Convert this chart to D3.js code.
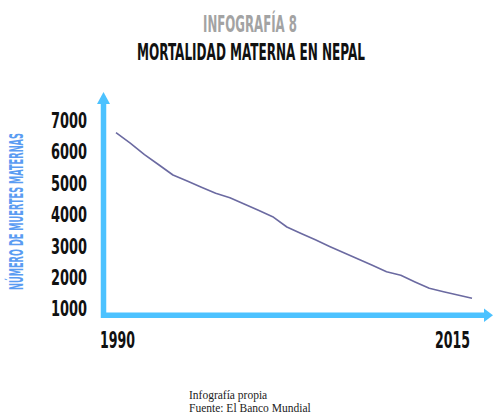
<!DOCTYPE html>
<html>
<head>
<meta charset="utf-8">
<script src="https://cdn.jsdelivr.net/npm/d3@7"></script>
<style>
  html, body { margin: 0; padding: 0; background: #ffffff; }
  svg { display: block; }
</style>
</head>
<body>
<svg id="chart" width="494" height="412"></svg>
<script>
// ---- data ----
const years = [1990,1991,1992,1993,1994,1995,1996,1997,1998,1999,2000,2001,2002,
               2003,2004,2005,2006,2007,2008,2009,2010,2011,2012,2013,2014,2015];
const deaths = [6580,6250,5885,5560,5233,5040,4845,4650,4510,4310,4110,3906,3578,
                3370,3170,2960,2760,2560,2360,2155,2040,1830,1627,1520,1415,1312];
const yTicks = [1000,2000,3000,4000,5000,6000,7000];
const xTicks = [1990,2015];
const titleTop = "INFOGRAFÍA 8";
const titleMain = "MORTALIDAD MATERNA EN NEPAL";
const yTitle = "NÚMERO DE MUERTES MATERNAS";
const footer = ["Infografía propia", "Fuente: El Banco Mundial"];

// ---- setup ----
const svg = d3.select("#chart");
const condensed = "'Liberation Sans Narrow', 'DejaVu Sans Condensed', 'Roboto Condensed', sans-serif";
const axisBlue = "#4cc2ff";

const x = d3.scaleLinear().domain([1990, 2015]).range([116, 472]);
const y = d3.scaleLinear().domain([1000, 7000]).range([308, 119.5]);

// condensed text: draw at origin, then squeeze horizontally to a target width
function squeezed(parent, str, cx, baseY, size, width, fill, rotate) {
  const g = parent.append("g");
  const t = g.append("text")
    .attr("text-anchor", "middle")
    .attr("font-family", condensed).attr("font-weight", "bold")
    .attr("font-size", size).attr("fill", fill)
    .text(str);
  const natural = t.node().getComputedTextLength();
  const sx = width / natural;
  g.attr("transform", `translate(${cx},${baseY})` + (rotate ? ` rotate(${rotate})` : "") + ` scale(${sx},1)`);
  return g;
}

// titles
squeezed(svg, titleTop, 250, 31.5, 22.5, 94, "#a3a3a3");
squeezed(svg, titleMain, 251, 60, 23.5, 228, "#111111");

// y-axis title
squeezed(svg, yTitle, 22.5, 211.5, 19.5, 157, "#5a9cf2", -90);

// y tick labels via axis
const gy = svg.append("g")
  .attr("transform", "translate(103,0)")
  .call(d3.axisLeft(y).tickValues(yTicks).tickSize(0).tickPadding(16).tickFormat(d3.format("d")));
gy.select(".domain").remove();
gy.selectAll(".tick text")
  .attr("font-family", condensed).attr("font-weight", "bold")
  .attr("font-size", 22).attr("fill", "#111111")
  .attr("dy", "0.36em")
  .attr("textLength", 36).attr("lengthAdjust", "spacingAndGlyphs");

// x tick labels via axis
const gx = svg.append("g")
  .attr("transform", "translate(0,315)")
  .call(d3.axisBottom(x).tickValues(xTicks).tickSize(0).tickPadding(17).tickFormat(d3.format("d")));
gx.select(".domain").remove();
gx.selectAll(".tick text")
  .attr("font-family", condensed).attr("font-weight", "bold")
  .attr("font-size", 22.5).attr("fill", "#111111")
  .attr("textLength", 35).attr("lengthAdjust", "spacingAndGlyphs")
  .attr("dx", d => d === 2015 ? -20 : 1);

// axis arrows
const axes = svg.append("g");
axes.append("line")
  .attr("x1", 103.5).attr("y1", 318).attr("x2", 103.5).attr("y2", 102)
  .attr("stroke", axisBlue).attr("stroke-width", 5.5);
axes.append("polygon")
  .attr("points", "103.5,92 97,104 110,104")
  .attr("fill", axisBlue);
axes.append("line")
  .attr("x1", 101).attr("y1", 315.3).attr("x2", 486).attr("y2", 315.3)
  .attr("stroke", axisBlue).attr("stroke-width", 5.5);
axes.append("polygon")
  .attr("points", "484,308.5 493,315.3 484,322")
  .attr("fill", axisBlue);

// data line
const line = d3.line()
  .x((d, i) => x(years[i]))
  .y(d => y(d));
svg.append("path")
  .datum(deaths)
  .attr("d", line)
  .attr("fill", "none")
  .attr("stroke", "#6b6aa1")
  .attr("stroke-width", 1.6)
  .attr("stroke-linejoin", "round");

// footer
svg.append("text")
  .attr("x", 189).attr("y", 398.5)
  .attr("font-family", "'Liberation Serif', 'Times New Roman', serif")
  .attr("font-size", 11.5).attr("fill", "#222")
  .text(footer[0]);
svg.append("text")
  .attr("x", 189).attr("y", 411.5)
  .attr("font-family", "'Liberation Serif', 'Times New Roman', serif")
  .attr("font-size", 11.5).attr("fill", "#222")
  .text(footer[1]);
</script>
</body>
</html>
